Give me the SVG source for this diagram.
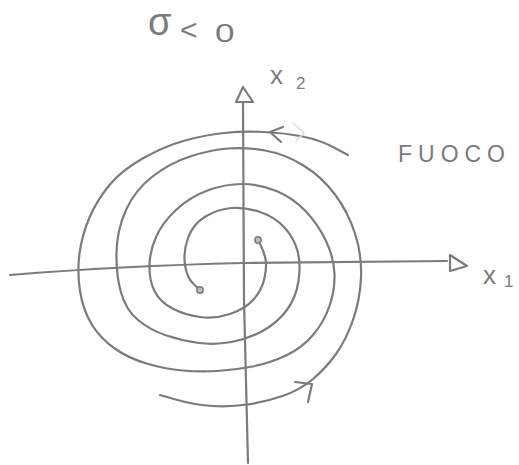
<svg xmlns="http://www.w3.org/2000/svg" width="519" height="465" viewBox="0 0 519 465">
<style>
.ln{fill:none;stroke:#7b7b7b;stroke-width:2.2;stroke-linecap:round;stroke-linejoin:round}
.tx{font-family:"Liberation Sans",Arial,sans-serif;fill:#7b7b7b}
</style>
<rect width="519" height="465" fill="#ffffff"/>
<g id="connectors">
<path id="axis-x1" class="ln" d="M10,275 Q120,266 243,263 L447,261"/>
<path id="arrow-x1" class="ln" fill="#fff" d="M450,255 L467,266 L450,271 Z"/>
<path id="axis-x2" class="ln" d="M243,103 L244,300 L248,463"/>
<path id="arrow-x2" class="ln" d="M243,87 L253,102 L236,102 Z"/>
<path id="spiral-a" class="ln" d="M258,240 L261,246 Q264,252 265.5,259 Q267,266 264.5,278 Q262,290 253.5,299.5 Q245,309 230,314 Q215,319 200,317 Q185,315 172.5,308.5 Q160,302 154.5,291 Q149,280 149.5,265 Q150,250 156.5,236 Q163,222 176.5,209.5 Q190,197 207.5,190.5 Q225,184 242.5,184 Q260,184 276.5,191 Q293,198 305.5,211 Q318,224 326,241 Q334,258 334.5,274 Q335,290 329.5,306 Q324,322 313,335 Q302,348 286,355.5 Q270,363 252.5,366.5 Q235,370 217.5,371 Q200,372 182.5,370.5 Q165,369 146.5,363.5 Q128,358 114,348 Q100,338 91.5,324 Q83,310 80,291 Q77,272 79.5,253.5 Q82,235 89.5,217.5 Q97,200 109.5,185 Q122,170 143.5,158 Q165,146 185,140.5 Q205,135 224,133 Q243,131 264,132 Q285,133 302.5,136.5 Q320,140 334,147.5 L348,155"/>
<path id="arrow-a" class="ln" d="M283,127 L270,132 L281,142"/>
<path id="arrow-a-erased" fill="none" stroke="#dcdcdc" stroke-width="1.6" stroke-linecap="round" d="M293,123 L304,133 L296,141"/>
<path id="spiral-b" class="ln" d="M200,290 L193.5,284 Q187,278 185,265 Q183,252 188,238 Q193,224 205.5,216.5 Q218,209 231.5,208 Q245,207 260,212 Q275,217 284.5,227.5 Q294,238 297.5,251 Q301,264 298.5,281 Q296,298 286.5,310.5 Q277,323 262.5,331 Q248,339 231.5,342 Q215,345 199,343 Q183,341 166.5,335.5 Q150,330 138,320 Q126,310 121,292.5 Q116,275 116.5,252.5 Q117,230 126,210 Q135,190 152.5,176.5 Q170,163 190,156.5 Q210,150 227.5,148.5 Q245,147 265,150.5 Q285,154 303.5,165.5 Q322,177 335,194.5 Q348,212 355,233.5 Q362,255 361,277.5 Q360,300 353,320 Q346,340 336,354 Q326,368 313,379 Q300,390 282.5,396 Q265,402 247.5,404.5 Q230,407 212.5,406 Q195,405 177.5,400 L160,395"/>
<path id="arrow-b" class="ln" d="M295,382 L312,384 L308,402"/>
</g>
<g id="point-a"><circle cx="258" cy="240" r="3.2" fill="#bbb" stroke="#7b7b7b" stroke-width="1.5"/></g>
<g id="point-b"><circle cx="200" cy="290" r="3.2" fill="#bbb" stroke="#7b7b7b" stroke-width="1.5"/></g>
<g id="title">
<text class="tx" x="148" y="35" font-size="38">σ</text>
<text class="tx" x="180" y="40" font-size="30">&lt;</text>
<text class="tx" x="215" y="42" font-size="26" transform="translate(215 42) scale(1.35 1) translate(-215 -42)">0</text>
</g>
<g id="label-x2">
<text class="tx" x="270" y="84" font-size="26">x</text>
<text class="tx" x="296" y="89" font-size="17">2</text>
</g>
<g id="label-x1">
<text class="tx" x="483" y="284" font-size="26">x</text>
<text class="tx" x="504" y="287" font-size="17">1</text>
</g>
<g id="label-fuoco">
<text class="tx" x="398" y="162" font-size="23" textLength="107" lengthAdjust="spacing">FUOCO</text>
</g>
</svg>
